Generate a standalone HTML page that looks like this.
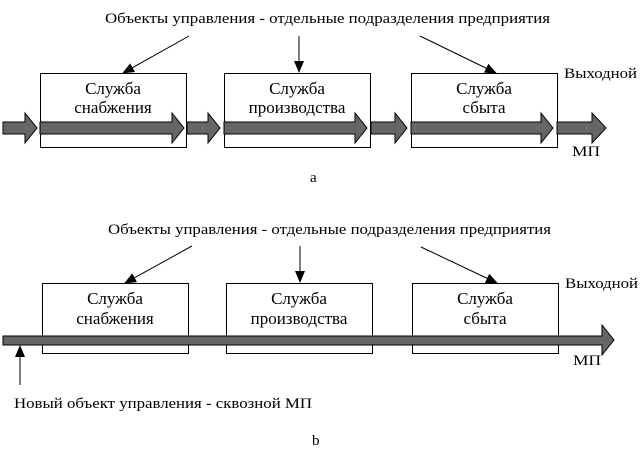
<!DOCTYPE html>
<html><head><meta charset="utf-8"><style>
html,body{margin:0;padding:0;background:#fff;width:642px;height:454px;overflow:hidden}
text{font-family:"Liberation Serif","Noto Serif CJK SC",serif;font-size:15px;fill:#000}
.bx{font-size:17px}
</style></head><body>
<svg width="642" height="454" viewBox="0 0 642 454" xmlns="http://www.w3.org/2000/svg">
<defs>
<marker id="ah" markerWidth="12" markerHeight="10" refX="11" refY="5" orient="auto" markerUnits="userSpaceOnUse">
<path d="M0,0 L12,5 L0,10 z" fill="#000"/></marker>
</defs>
<!-- Diagram a -->
<text x="105" y="23" textLength="445" lengthAdjust="spacingAndGlyphs">Объекты управления - отдельные подразделения предприятия</text>
<line x1="189" y1="36" x2="123" y2="73" stroke="#000" marker-end="url(#ah)"/>
<line x1="299" y1="36" x2="299" y2="72" stroke="#000" marker-end="url(#ah)"/>
<line x1="420" y1="36" x2="496" y2="73" stroke="#000" marker-end="url(#ah)"/>
<g fill="#fff" stroke="#000" stroke-width="1">
<rect x="40.5" y="73.5" width="146" height="74"/>
<rect x="224.5" y="73.5" width="146" height="74"/>
<rect x="411.5" y="73.5" width="146" height="74"/>
</g>
<g text-anchor="middle" class="bx">
<text class="bx" x="113" y="94">Служба</text><text class="bx" x="113" y="113">снабжения</text>
<text class="bx" x="297" y="94">Служба</text><text class="bx" x="297" y="113">производства</text>
<text class="bx" x="484" y="94">Служба</text><text class="bx" x="484" y="113">сбыта</text>
</g>
<g fill="#666" stroke="#000" stroke-width="1">
<path d="M3,122 H25 V113 L37,128 L25,143 V134 H3 Z"/>
<path d="M40,122 H172 V113 L184,128 L172,143 V134 H40 Z"/>
<path d="M187,122 H208 V113 L220,128 L208,143 V134 H187 Z"/>
<path d="M224,122 H355 V113 L367,128 L355,143 V134 H224 Z"/>
<path d="M371,122 H395 V113 L407,128 L395,143 V134 H371 Z"/>
<path d="M411,122 H541 V113 L553,128 L541,143 V134 H411 Z"/>
<path d="M557,122 H592 V113 L606,128 L592,143 V134 H557 Z"/>
</g>
<text x="564" y="78" textLength="73" lengthAdjust="spacingAndGlyphs">Выходной</text>
<text x="572" y="156" textLength="28" lengthAdjust="spacingAndGlyphs">МП</text>
<text x="310" y="182">a</text>
<!-- Diagram b -->
<text x="108" y="234" textLength="443" lengthAdjust="spacingAndGlyphs">Объекты управления - отдельные подразделения предприятия</text>
<line x1="192" y1="246" x2="125" y2="283" stroke="#000" marker-end="url(#ah)"/>
<line x1="300" y1="246" x2="300" y2="282" stroke="#000" marker-end="url(#ah)"/>
<line x1="421" y1="247" x2="497" y2="283" stroke="#000" marker-end="url(#ah)"/>
<g fill="#fff" stroke="#000" stroke-width="1">
<rect x="42.5" y="283.5" width="146" height="70"/>
<rect x="226.5" y="283.5" width="146" height="70"/>
<rect x="412.5" y="283.5" width="146" height="70"/>
</g>
<g text-anchor="middle">
<text class="bx" x="115" y="304">Служба</text><text class="bx" x="115" y="324">снабжения</text>
<text class="bx" x="299" y="304">Служба</text><text class="bx" x="299" y="324">производства</text>
<text class="bx" x="485" y="304">Служба</text><text class="bx" x="485" y="324">сбыта</text>
</g>
<path d="M3,336 H602 V325 L614,340 L602,355 V345 H3 Z" fill="#666" stroke="#000"/>
<text x="565" y="288" textLength="73" lengthAdjust="spacingAndGlyphs">Выходной</text>
<text x="573" y="365" textLength="28" lengthAdjust="spacingAndGlyphs">МП</text>
<line x1="20" y1="385" x2="20" y2="346" stroke="#000" marker-end="url(#ah)"/>
<text x="14" y="408" textLength="298" lengthAdjust="spacingAndGlyphs">Новый объект управления - сквозной МП</text>
<text x="312" y="445">b</text>
</svg>
</body></html>
